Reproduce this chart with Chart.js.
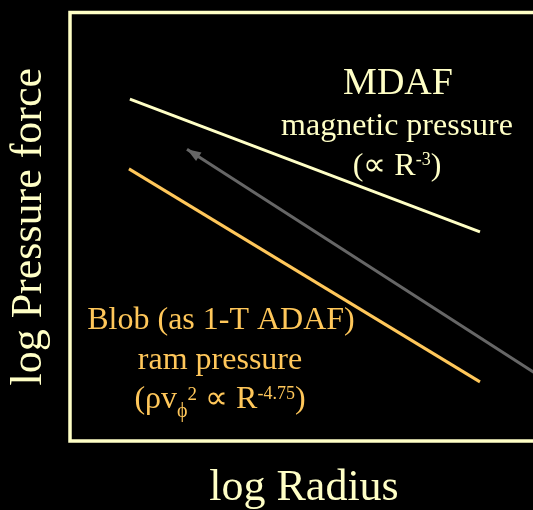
<!DOCTYPE html>
<html>
<head>
<meta charset="utf-8">
<title>Pressure force vs radius</title>
<script src="https://cdn.jsdelivr.net/npm/chart.js@4.4.1/dist/chart.umd.min.js"></script>
<style>
  html, body { margin: 0; padding: 0; background: #000; overflow: hidden; }
  #wrap { position: absolute; left: 0; top: 0; width: 545px; height: 510px; }
</style>
</head>
<body>
<div id="wrap"><canvas id="c"></canvas></div>
<script>
// log R / log P end points of each curve (arbitrary log units)
const mdafLogR = [1.28, 8.76];
const mdafLogP = [7.98, 4.88];
const blobLogR = [1.26, 8.76];
const blobLogP = [6.35, 1.38];
// evolution arrow: tail, then head
const flowLogR = [10.0, 2.50];
const flowLogP = [1.54, 6.81];

const CREAM = '#FFFFC6';
const ORANGE = '#FFC75A';
const GREY = '#666666';
const SERIF = '"Liberation Serif", "Times New Roman", serif';

const toPoints = (xs, ys) => xs.map((x, i) => ({ x: x, y: ys[i] }));

// Text blocks, each a list of runs: [text, size, rise]
const captions = [
  { color: CREAM, x: 398, y: 94,  runs: [['MDAF', 38, 0]] },
  { color: CREAM, x: 397, y: 135, runs: [['magnetic pressure', 32, 0]] },
  { color: CREAM, x: 397, y: 175, runs: [['(\u221D R', 32, 0], ['-3', 18, 10], [')', 32, 0]] },
  { color: ORANGE, x: 221, y: 329, runs: [['Blob (as 1-T ADAF)', 32, 0]] },
  { color: ORANGE, x: 220, y: 369, runs: [['ram pressure', 32, 0]] },
  { color: ORANGE, x: 220, y: 408, runs: [['(\u03C1v', 32, 0], ['\u03D5', 20, -9], ['2', 19, 8], [' \u221D R', 32, 0], ['-4.75', 18, 9], [')', 32, 0]] }
];

const framePlugin = {
  id: 'frame',
  beforeDatasetsDraw(chart) {
    const { ctx, chartArea: a } = chart;
    ctx.save();
    ctx.strokeStyle = CREAM;
    ctx.lineWidth = 3.5;
    ctx.strokeRect(a.left, a.top, a.right - a.left, a.bottom - a.top);
    ctx.restore();
  },
  afterDatasetsDraw(chart) {
    const { ctx } = chart;
    // arrow head on the evolution line
    const pts = chart.getDatasetMeta(2).data;
    const tail = pts[0], head = pts[1];
    const dx = tail.x - head.x, dy = tail.y - head.y;
    const len = Math.hypot(dx, dy);
    const ux = dx / len, uy = dy / len;
    const L = 14, W = 5;
    ctx.save();
    ctx.fillStyle = GREY;
    ctx.beginPath();
    ctx.moveTo(head.x, head.y);
    ctx.lineTo(head.x + L * ux - W * uy, head.y + L * uy + W * ux);
    ctx.lineTo(head.x + L * ux + W * uy, head.y + L * uy - W * ux);
    ctx.closePath();
    ctx.fill();
    ctx.restore();
  },
  afterDraw(chart) {
    const { ctx } = chart;
    ctx.save();
    ctx.textAlign = 'left';
    ctx.textBaseline = 'alphabetic';
    captions.forEach(c => {
      let total = 0;
      const widths = c.runs.map(([t, s]) => {
        ctx.font = s + 'px ' + SERIF;
        const w = ctx.measureText(t).width;
        total += w;
        return w;
      });
      let x = c.x - total / 2;
      ctx.fillStyle = c.color;
      c.runs.forEach(([t, s, rise], i) => {
        ctx.font = s + 'px ' + SERIF;
        ctx.fillText(t, x, c.y - rise);
        x += widths[i];
      });
    });
    ctx.restore();
  }
};

new Chart(document.getElementById('c'), {
  type: 'scatter',
  data: {
    datasets: [
      { data: toPoints(mdafLogR, mdafLogP), showLine: true, borderColor: CREAM, borderWidth: 3, pointRadius: 0, borderCapStyle: 'butt' },
      { data: toPoints(blobLogR, blobLogP), showLine: true, borderColor: ORANGE, borderWidth: 3, pointRadius: 0, borderCapStyle: 'butt' },
      { data: toPoints(flowLogR, flowLogP), showLine: true, borderColor: GREY, borderWidth: 3, pointRadius: 0, borderCapStyle: 'butt', clip: false }
    ]
  },
  options: {
    responsive: true,
    maintainAspectRatio: false,
    animation: false,
    layout: { padding: { left: 0, top: 12.5, right: 7, bottom: 0 } },
    plugins: { legend: { display: false }, tooltip: { enabled: false } },
    scales: {
      x: {
        type: 'linear', min: 0, max: 10,
        ticks: { display: false },
        grid: { display: false, drawTicks: false },
        border: { display: false },
        title: { display: true, text: 'log Radius', color: CREAM,
          font: { family: SERIF, size: 44, lineHeight: 1 }, padding: { top: 25, bottom: 0 } }
      },
      y: {
        type: 'linear', min: 0, max: 10,
        ticks: { display: false },
        grid: { display: false, drawTicks: false },
        border: { display: false },
        title: { display: true, text: 'log Pressure force', color: CREAM,
          font: { family: SERIF, size: 44, lineHeight: 1 }, padding: { top: 7, bottom: 19 } }
      }
    }
  },
  plugins: [framePlugin]
});
</script>
</body>
</html>
